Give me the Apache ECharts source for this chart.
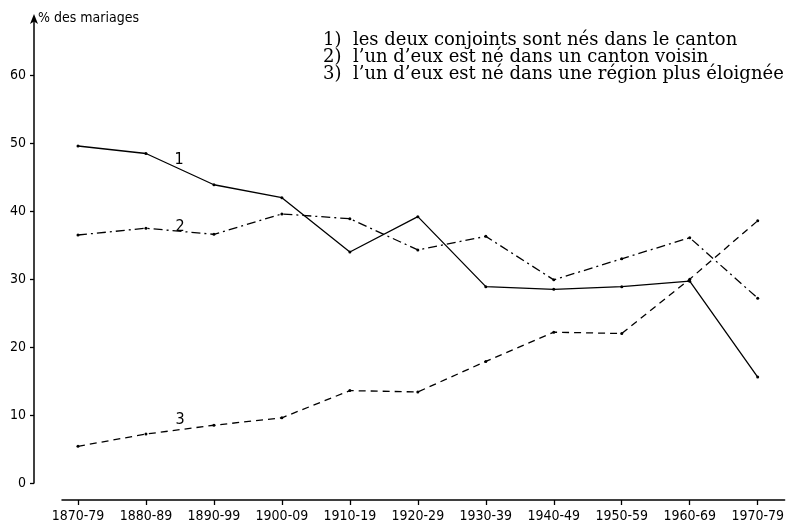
<!DOCTYPE html>
<html>
<head>
<meta charset="utf-8">
<script src="https://cdn.jsdelivr.net/npm/echarts@6/dist/echarts.min.js"></script>
<style>html,body{margin:0;padding:0;background:#fff;}#c{width:787px;height:531px;}</style>
</head>
<body>
<div id="c"></div>
<script>
var periods = ['1870-79','1880-89','1890-99','1900-09','1910-19','1920-29','1930-39','1940-49','1950-59','1960-69','1970-79'];
var s1 = [49.6, 48.5, 43.9, 42.0, 34.0, 39.2, 28.9, 28.5, 28.9, 29.7, 15.6];
var s2 = [36.5, 37.5, 36.6, 39.6, 38.9, 34.3, 36.3, 29.9, 33.0, 36.1, 27.2];
var s3 = [5.4, 7.2, 8.5, 9.6, 13.6, 13.4, 17.9, 22.2, 22.0, 30.0, 38.6];
var yTicks = [0, 10, 20, 30, 40, 50, 60];
var legendLines = [
  '1)  les deux conjoints sont nés dans le canton',
  '2)  l\u2019un d\u2019eux est né dans un canton voisin',
  '3)  l\u2019un d\u2019eux est né dans une région plus éloignée'
];

function pairs(arr){ return arr.map(function(v,i){ return [i, v]; }); }
var idx = periods.map(function(p,i){ return i; });
var sans = '"DejaVu Sans Condensed", "DejaVu Sans", sans-serif';

var chart = echarts.init(document.getElementById('c'), null, {renderer:'canvas'});
var lineBase = {type:'line', symbol:'circle', symbolSize:3, itemStyle:{color:'#000'}, animation:false, z:3};
chart.setOption({
  backgroundColor:'#fff',
  animation:false,
  title:{
    text: legendLines.join('\n'),
    left: 318, top: 27,
    textStyle:{fontFamily:'"DejaVu Serif", "Liberation Serif", serif', fontSize:18, fontWeight:'normal', color:'#000', lineHeight:17}
  },
  grid:{left:62, right:0, top:21, bottom:48, containLabel:false},
  xAxis:{
    type:'value', min:-0.235, max:10.396, offset:17,
    axisLine:{show:true, onZero:false, lineStyle:{color:'#000', width:1.5}},
    axisTick:{show:true, length:5, inside:false, customValues: idx, lineStyle:{color:'#000', width:1.3}},
    axisLabel:{show:true, customValues: idx, margin:9, color:'#000', fontFamily:sans, fontSize:14,
      formatter:function(v){ return periods[Math.round(v)]; }},
    splitLine:{show:false}
  },
  yAxis:{
    type:'value', min:0, max:68, offset:28,
    name:'% des mariages', nameLocation:'end', nameGap:3,
    nameTextStyle:{align:'left', verticalAlign:'middle', color:'#000', fontFamily:sans, fontSize:14, padding:[0,0,0,4]},
    axisLine:{show:true, onZero:false, symbol:['none','arrow'], symbolSize:[6,10], symbolOffset:[0,7], lineStyle:{color:'#000', width:1.5}},
    axisTick:{show:true, length:4, customValues: yTicks, lineStyle:{color:'#000', width:1.3}},
    axisLabel:{show:true, customValues: yTicks, margin:8, color:'#000', fontFamily:sans, fontSize:14},
    splitLine:{show:false}
  },
  graphic:[
    {type:'text', x:179, y:160, style:{text:'1', font:'16px ' + sans, fill:'#000', align:'center', verticalAlign:'middle'}},
    {type:'text', x:180, y:227, style:{text:'2', font:'16px ' + sans, fill:'#000', align:'center', verticalAlign:'middle'}},
    {type:'text', x:180, y:420, style:{text:'3', font:'16px ' + sans, fill:'#000', align:'center', verticalAlign:'middle'}}
  ],
  series:[
    Object.assign({}, lineBase, {name:'1', data:pairs(s1), lineStyle:{color:'#000', width:1.3, type:'solid'}}),
    Object.assign({}, lineBase, {name:'2', data:pairs(s2), lineStyle:{color:'#000', width:1.3, type:[9,4,2,4]}}),
    Object.assign({}, lineBase, {name:'3', data:pairs(s3), lineStyle:{color:'#000', width:1.3, type:[7,5]}})
  ]
});
</script>
</body>
</html>
